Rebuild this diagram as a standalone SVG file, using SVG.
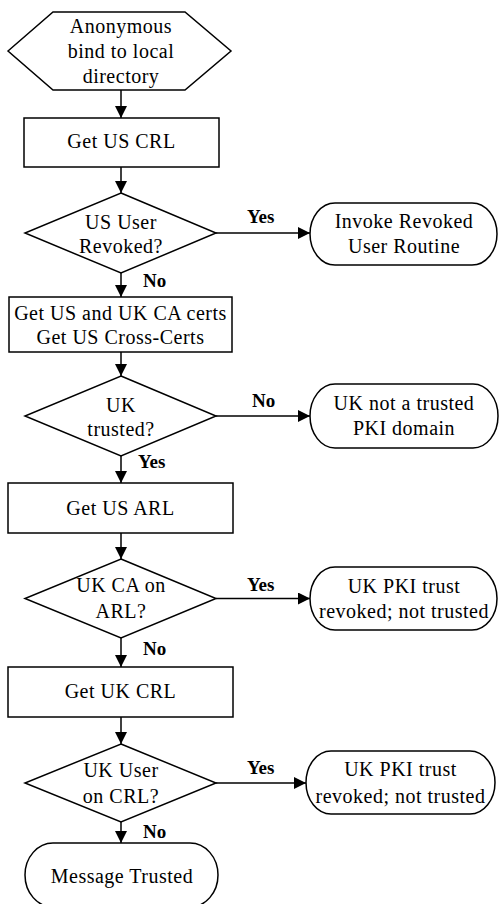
<svg xmlns="http://www.w3.org/2000/svg" width="500" height="904" viewBox="0 0 500 904">
<style>
.s{fill:#fff;stroke:#000;stroke-width:1.5}
.t{font-family:"Liberation Serif","Times New Roman",serif;font-size:20px;letter-spacing:0.5px;text-anchor:middle;fill:#000}
.b{font-family:"Liberation Serif","Times New Roman",serif;font-size:19px;font-weight:bold;fill:#000}
.c{stroke:#000;stroke-width:1.5;fill:none;marker-end:url(#ah)}
</style>
<defs>
<marker id="ah" markerUnits="userSpaceOnUse" markerWidth="12" markerHeight="12" refX="12" refY="6" orient="auto">
<path d="M0,0 L12,6 L0,12 Z" fill="#000"/>
</marker>
</defs>
<rect width="500" height="904" fill="#fff"/>
<g id="connectors">
<line class="c" x1="121" y1="90" x2="121" y2="118"/>
<line class="c" x1="121" y1="167" x2="121" y2="193"/>
<line class="c" x1="121" y1="273" x2="121" y2="297"/>
<line class="c" x1="216" y1="233" x2="310" y2="233"/>
<line class="c" x1="121" y1="352" x2="121" y2="376"/>
<line class="c" x1="216" y1="416" x2="310" y2="416"/>
<line class="c" x1="121" y1="456" x2="121" y2="483"/>
<line class="c" x1="121" y1="533" x2="121" y2="559"/>
<line class="c" x1="216" y1="598.5" x2="310" y2="598.5"/>
<line class="c" x1="121" y1="638" x2="121" y2="667"/>
<line class="c" x1="121" y1="717" x2="121" y2="744"/>
<line class="c" x1="216" y1="783" x2="306" y2="783"/>
<line class="c" x1="121" y1="822" x2="121" y2="843"/>
<text class="b" x="247" y="223">Yes</text>
<text class="b" x="143" y="287">No</text>
<text class="b" x="252" y="407">No</text>
<text class="b" x="138" y="468">Yes</text>
<text class="b" x="247" y="591">Yes</text>
<text class="b" x="143" y="655">No</text>
<text class="b" x="247" y="774">Yes</text>
<text class="b" x="143" y="838">No</text>
</g>
<g id="start">
<polygon class="s" points="8,51 53,12 185,12 231,51 185,90 53,90"/>
<text class="t" x="121" y="33">Anonymous</text>
<text class="t" x="121" y="58">bind to local</text>
<text class="t" x="121" y="83">directory</text>
</g>
<g id="getUSCRL">
<rect class="s" x="24" y="118" width="195" height="49"/>
<text class="t" x="121.5" y="148">Get US CRL</text>
</g>
<g id="usUserRevoked">
<polygon class="s" points="121,193 216,233 121,273 25,233"/>
<text class="t" x="121" y="229">US User</text>
<text class="t" x="121" y="253">Revoked?</text>
</g>
<g id="invokeRevoked">
<rect class="s" x="310" y="203" width="187" height="62" rx="25" ry="31"/>
<text class="t" x="404" y="228">Invoke Revoked</text>
<text class="t" x="404" y="253">User Routine</text>
</g>
<g id="getCACerts">
<rect class="s" x="9" y="297" width="223" height="55"/>
<text class="t" x="120.5" y="320">Get US and UK CA certs</text>
<text class="t" x="120.5" y="344">Get US Cross-Certs</text>
</g>
<g id="ukTrusted">
<polygon class="s" points="121,376 216,416 121,456 25,416"/>
<text class="t" x="121" y="412">UK</text>
<text class="t" x="121" y="436">trusted?</text>
</g>
<g id="ukNotTrusted">
<rect class="s" x="310" y="384" width="188" height="64" rx="25" ry="32"/>
<text class="t" x="404" y="410">UK not a trusted</text>
<text class="t" x="404" y="435">PKI domain</text>
</g>
<g id="getUSARL">
<rect class="s" x="8" y="483" width="225" height="50"/>
<text class="t" x="120.5" y="515">Get US ARL</text>
</g>
<g id="ukCAonARL">
<polygon class="s" points="121,559 216,598.5 121,638 25,598.5"/>
<text class="t" x="121" y="592">UK CA on</text>
<text class="t" x="121" y="618">ARL?</text>
</g>
<g id="ukTrustRevoked1">
<rect class="s" x="310" y="567" width="187" height="63" rx="25" ry="31.5"/>
<text class="t" x="404" y="593">UK PKI trust</text>
<text class="t" x="404" y="618">revoked; not trusted</text>
</g>
<g id="getUKCRL">
<rect class="s" x="8" y="667" width="225" height="50"/>
<text class="t" x="120.5" y="698">Get UK CRL</text>
</g>
<g id="ukUserOnCRL">
<polygon class="s" points="121,744 216,783 121,822 25,783"/>
<text class="t" x="121" y="777">UK User</text>
<text class="t" x="121" y="803">on CRL?</text>
</g>
<g id="ukTrustRevoked2">
<rect class="s" x="306" y="751" width="189" height="63" rx="25" ry="31.5"/>
<text class="t" x="400.5" y="776">UK PKI trust</text>
<text class="t" x="400.5" y="803">revoked; not trusted</text>
</g>
<g id="messageTrusted">
<rect class="s" x="25" y="843" width="193" height="64" rx="28" ry="32"/>
<text class="t" x="122" y="883">Message Trusted</text>
</g>
</svg>
